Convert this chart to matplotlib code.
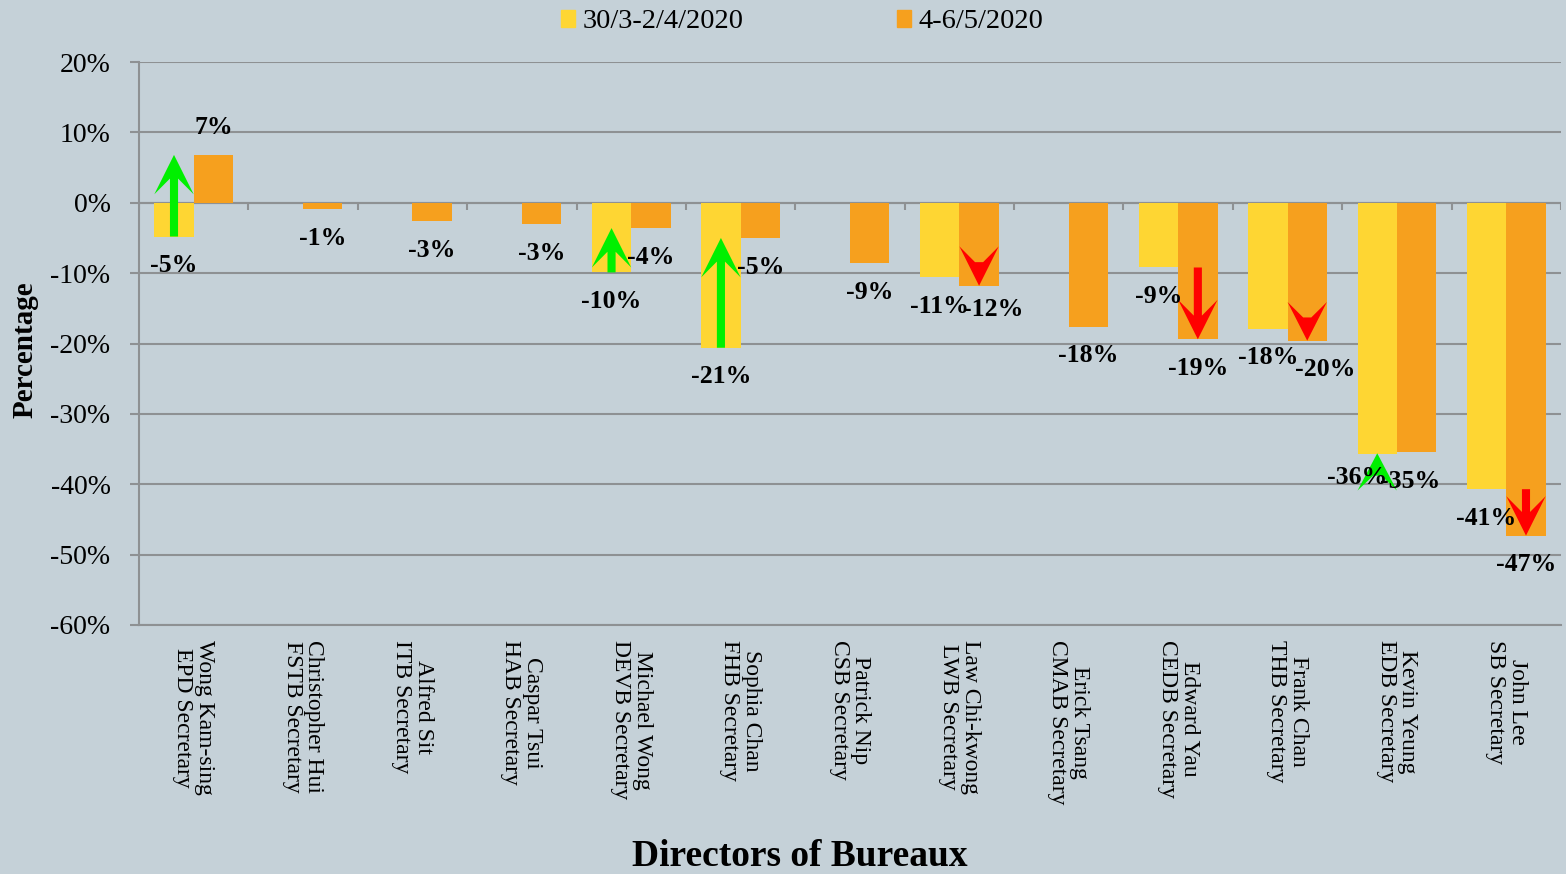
import numpy as np
import matplotlib
matplotlib.use("Agg")
import matplotlib.pyplot as plt
from matplotlib.patches import Polygon, Patch

plt.rcParams["font.family"] = ["Liberation Serif", "DejaVu Serif"]

# ---- data ----
names = ["Wong Kam-sing", "Christopher Hui", "Alfred Sit", "Caspar Tsui",
         "Michael Wong", "Sophia Chan", "Patrick Nip", "Law Chi-kwong",
         "Erick Tsang", "Edward Yau", "Frank Chan", "Kevin Yeung", "John Lee"]
posts = ["EPD Secretary", "FSTB Secretary", "ITB Secretary", "HAB Secretary",
         "DEVB Secretary", "FHB Secretary", "CSB Secretary", "LWB Secretary",
         "CMAB Secretary", "CEDB Secretary", "THB Secretary", "EDB Secretary",
         "SB Secretary"]
series_names = ["30/3-2/4/2020", "4-6/5/2020"]
wave1 = [-4.8, np.nan, np.nan, np.nan, -9.9, -20.6, np.nan, -10.6, np.nan,
         -9.2, -17.9, -35.7, -40.7]
wave2 = [6.8, -0.9, -2.6, -3.0, -3.6, -5.0, -8.6, -11.8, -17.6, -19.4,
         -19.6, -35.4, -47.3]

# change arrows: category, series bar it sits on, from, to
arrow_idx = [0, 4, 5, 11, 7, 9, 10, 12]
arrow_bar = [0, 0, 0, 0, 1, 1, 1, 1]
arrow_from = [-4.8, -9.9, -20.6, -40.9, -6.2, -9.2, -14.1, -40.7]
arrow_to = [6.8, -3.6, -5.0, -35.6, -11.8, -19.4, -19.6, -47.3]

# ---- style ----
bg = "#C5D1D8"
yellow = "#FED633"
orange = "#F6A01E"
grid_col = "#8E9193"
width = 0.36
# pixel nudges for a few value labels (dx right, dy down)
label_nudge = {(1, 7): (14, -5), (1, 10): (18, 0), (0, 11): (-20, -6),
               (1, 11): (-6, 0)}

fig = plt.figure(figsize=(15.66, 8.74), dpi=100, facecolor=bg)
ax = fig.add_axes([139 / 1566, 1 - 625 / 874, (1561 - 139) / 1566,
                   (625 - 62) / 874])
ax.set_facecolor(bg)

x = np.arange(len(names))
ax.bar(x - width / 2, wave1, width, color=yellow, zorder=2)
ax.bar(x + width / 2, wave2, width, color=orange, zorder=2)

# arrows drawn as stealth-shaped polygons
head_len = 5.6
head_w = width
shaft_w = 0.074
for i, b, y0, y1 in zip(arrow_idx, arrow_bar, arrow_from, arrow_to):
    cx = x[i] + (width / 2 if b else -width / 2)
    d = np.sign(y1 - y0)
    hl = min(head_len, abs(y1 - y0))
    wing = y1 - d * hl
    notch = y1 - d * hl * 0.6
    col = "#FF0000" if b else "#00F000"
    pts = [(cx, y1), (cx + head_w / 2, wing), (cx + shaft_w / 2, notch)]
    if abs(y0 - y1) > hl + 0.05:
        pts += [(cx + shaft_w / 2, y0), (cx - shaft_w / 2, y0)]
    pts += [(cx - shaft_w / 2, notch), (cx - head_w / 2, wing)]
    ax.add_patch(Polygon(pts, closed=True, color=col, lw=0, zorder=3))

# value labels
for s, vals in enumerate([wave1, wave2]):
    for i, v in enumerate(vals):
        if np.isnan(v):
            continue
        dx, dy = label_nudge.get((s, i), (0, 0))
        off = 20 if v >= 0 else -21
        ax.annotate(f"{v:.0f}%", (x[i] + (s - 0.5) * width, v),
                    xytext=(dx / 1.389, off - dy / 1.389),
                    textcoords="offset points", ha="center", va="center",
                    fontsize=18.5, fontweight="bold", zorder=4)

ax.set_xlim(-0.5, len(names) - 0.5)
ax.set_ylim(-60, 20)
yt = np.arange(-60, 21, 10)
ax.set_yticks(yt, [f"{t}%" for t in yt])
ax.tick_params(axis="y", length=6.5, width=1.5, color=grid_col, pad=14,
               labelsize=20)
ax.set_xticks(x, [f"{n}\n{p}" for n, p in zip(names, posts)],
              rotation=270, ha="center", va="top", multialignment="center",
              fontsize=17, linespacing=1.05)
ax.tick_params(axis="x", length=0, pad=11)
ax.grid(axis="y", color=grid_col, lw=1.5, zorder=1)
ax.set_axisbelow(True)
for side in ["top", "right"]:
    ax.spines[side].set_visible(False)
for side in ["left", "bottom"]:
    ax.spines[side].set_color(grid_col)
    ax.spines[side].set_linewidth(1.5)

# category separator ticks on the zero line
ax.vlines(np.arange(-0.5, len(names)), 0, -1.0, color=grid_col, lw=1.5,
          zorder=1)
ax.axhline(0, color=grid_col, lw=1.5, zorder=1)

fig.text(25 / 1566, 1 - 350 / 874, "Percentage", rotation=90, ha="center",
         va="center", fontsize=21, fontweight="bold")
fig.text(800 / 1566, 1 - 857 / 874, "Directors of Bureaux", ha="center",
         va="center", fontsize=27, fontweight="bold")

handles = [Patch(color=yellow), Patch(color=orange)]
fig.legend(handles, series_names, loc="center",
           bbox_to_anchor=(802 / 1566, 1 - 22 / 874), ncol=2, frameon=False,
           handlelength=0.5, handleheight=0.5, handletextpad=0.25,
           columnspacing=5.4, fontsize=20.5)

fig.savefig("out.png", dpi=100, facecolor=bg)
